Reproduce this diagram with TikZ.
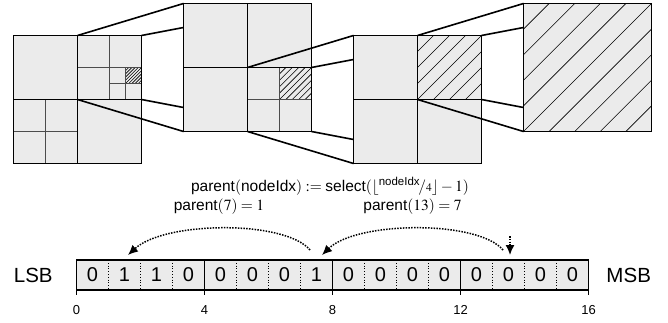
\documentclass[tikz,border=0pt]{standalone}
\usepackage{amsmath}
\usepackage{mathptmx}
\usepackage[no-math]{fontspec}
\setsansfont{Liberation Sans}
\usetikzlibrary{calc,arrows.meta}
\definecolor{boxfill}{HTML}{EBEBEB}
\tikzset{
  thickline/.style={line width=1.6pt, black},
  subline/.style={line width=0.9pt, black!70},
  hatchline/.style={line width=0.6pt, black},
  sqfill/.style={fill=boxfill, inner sep=0pt, outer sep=0pt, minimum size=128pt},
  bit/.style={fill=boxfill, inner sep=0pt, outer sep=0pt, minimum width=32pt, minimum height=30pt, font=\sffamily\fontsize{20}{20}\selectfont},
  ticklabel/.style={inner sep=0pt, font=\sffamily\fontsize{13}{13}\selectfont},
  sidelabel/.style={inner sep=0pt, font=\sffamily\fontsize{20.5}{20}\selectfont},
  formula/.style={inner sep=0pt, font=\fontsize{15.5}{15.5}\selectfont},
  parrow/.style={line width=1.5pt, dash pattern=on 1.5pt off 1.3pt, -{Latex[length=10pt,width=9pt]}},
}
% #1,#2 top-left corner, #3 side, #4 spacing, #5 number of lines
\newcommand\myhatch[5]{%
  \begin{scope}
    \clip (#1,#2) rectangle ++(#3,#3);
    \foreach \k in {1,...,#5}
      \draw[hatchline] ({#1+\k*#4-#3},{#2+#3}) -- ++(#3,-#3);
  \end{scope}}
\begin{document}
\begin{tikzpicture}[x=1pt,y=-1pt]
\useasboundingbox (0,0) rectangle (668,323);

% squares (fills)
\node[sqfill] (s1) at (77.5,99.5) {};
\node[sqfill] (s2) at (247.5,67.5) {};
\node[sqfill] (s3) at (417.5,99.5) {};
\node[sqfill] (s4) at (587.5,67.5) {};

% zoom connectors
\draw[thickline] (s1.north) -- (s2.north west)
  (s1.north east) -- ($(s2.north west)+(0,24)$)
  (s1.east) -- ($(s2.south west)+(0,-24)$)
  (s1.center) -- (s2.south west);
\draw[thickline] (s2.center) -- (s3.north west)
  (s2.east) -- ($(s3.north west)+(0,24)$)
  (s2.south east) -- ($(s3.south west)+(0,-24)$)
  (s2.south) -- (s3.south west);
\draw[thickline] (s3.north) -- (s4.north west)
  (s3.north east) -- ($(s4.north west)+(0,24)$)
  (s3.east) -- ($(s4.south west)+(0,-24)$)
  (s3.center) -- (s4.south west);

% square 1
\myhatch{125.5}{67.5}{16}{3.2}{9}
\draw[subline] (109.5,35.5) -- (109.5,99.5) (77.5,67.5) -- (141.5,67.5)
  (125.5,67.5) -- (125.5,99.5) (109.5,83.5) -- (141.5,83.5)
  (45.5,99.5) -- (45.5,163.5) (13.5,131.5) -- (77.5,131.5);
\draw[thickline] (s1.north) -- (s1.south) (s1.west) -- (s1.east)
  (s1.north west) rectangle (s1.south east);

% square 2
\myhatch{279.5}{67.5}{32}{6.4}{9}
\draw[subline] (279.5,67.5) -- (279.5,131.5) (247.5,99.5) -- (311.5,99.5);
\draw[thickline] (s2.north) -- (s2.south) (s2.west) -- (s2.east)
  (s2.north west) rectangle (s2.south east);

% square 3
\myhatch{417.5}{35.5}{64}{16}{7}
\draw[thickline] (s3.north) -- (s3.south) (s3.west) -- (s3.east)
  (s3.north west) rectangle (s3.south east);

% square 4
\myhatch{523.5}{3.5}{128}{25.6}{9}
\draw[thickline] (s4.north west) rectangle (s4.south east);

% formula and labels
\node[formula] (f) at (330,186.5)
  {$\textsf{parent}(\textsf{nodeIdx}) := \textsf{select}(\lfloor{}^{\text{\sffamily nodeIdx}}\!/{\scriptstyle 4}\rfloor - 1)$};
\node[formula] (l1) at (219,207) {$\textsf{parent}(7) = 1$};
\node[formula] (l2) at (412.5,207) {$\textsf{parent}(13) = 7$};

% bits
\foreach \v [count=\i from 0] in {0,1,1,0,0,0,0,1,0,0,0,0,0,0,0,0}
  \node[bit] (b\i) at ({92.5+32*\i},275) {\v};
\foreach \i in {1,2,3,5,6,7,9,10,11,13,14,15}
  \draw[dotted, line width=0.8pt] (b\i.north west) -- (b\i.south west);
\foreach \i/\l in {0/0,4/4,8/8,12/12} {
  \draw[thickline] (b\i.north west) -- ++(0,35);
  \node[ticklabel] (t\l) at ($(b\i.south west)+(0,20)$) {\l};
}
\draw[thickline] (b15.north east) -- ++(0,35);
\node[ticklabel] (t16) at ($(b15.south east)+(0,20)$) {16};
\draw[thickline] (b0.north west) rectangle (b15.south east);

\node[sidelabel] (lsb) at (33.3,275) {LSB};
\node[sidelabel] (msb) at (628.7,275) {MSB};

% arrows
\coordinate (a1s) at ($(b7.north)+(-6.5,-10)$);
\coordinate (a1e) at ($(b1.north)+(3.5,-5)$);
\coordinate (a2s) at ($(b13.north)+(-5.5,-10)$);
\coordinate (a2e) at ($(b7.north)+(5.5,-5)$);
\coordinate (a3s) at ($(b13.north)+(1.5,-24)$);
\coordinate (a3e) at ($(b13.north)+(1.5,-5)$);
\draw[parrow] (a1s) .. controls +(-25,-30) and +(37,-34) .. (a1e);
\draw[parrow] (a2s) .. controls +(-25,-30) and +(35,-34) .. (a2e);
\draw[parrow] (a3s) -- (a3e);
\end{tikzpicture}
\end{document}
